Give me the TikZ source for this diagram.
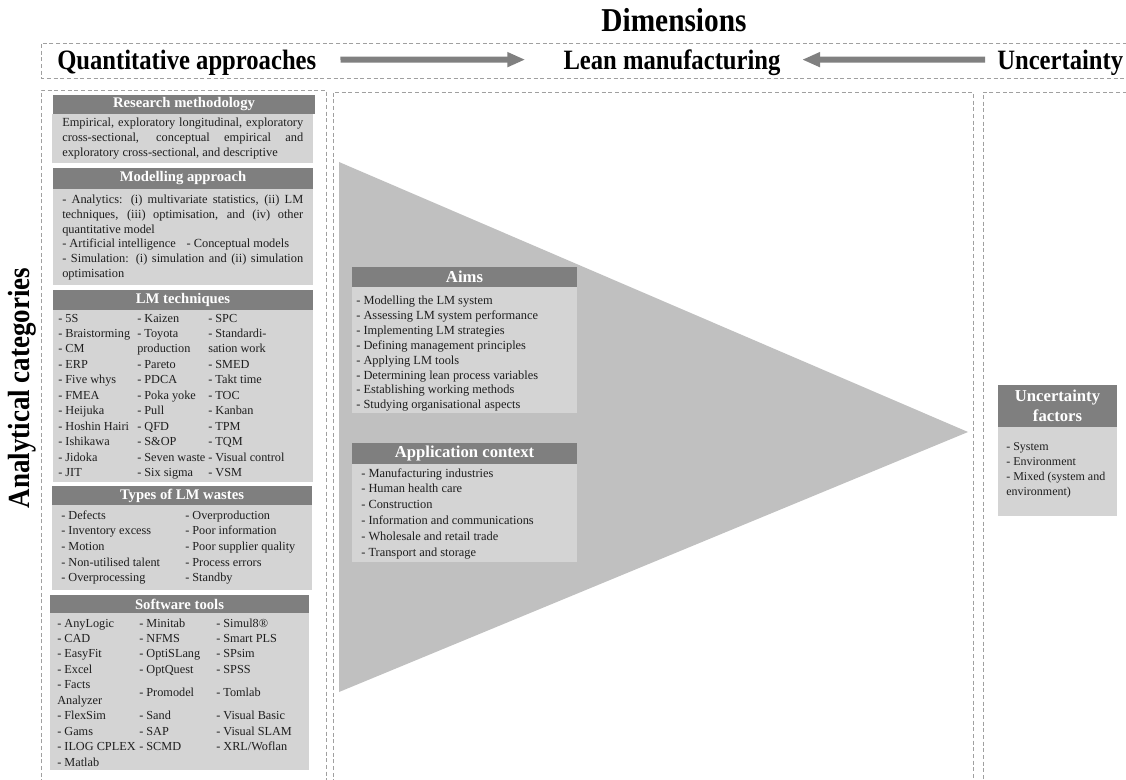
\documentclass[tikz,border=0pt]{standalone}
\usepackage{fontspec}
\setmainfont{Liberation Serif}
\newfontfamily\hdrfont[FakeStretch=0.88]{Liberation Serif}
\usetikzlibrary{arrows.meta,fit}
\definecolor{hdrgray}{HTML}{7F7F7F}
\definecolor{bodygray}{HTML}{D4D4D4}
\definecolor{trigray}{HTML}{C0C0C0}
\definecolor{arrgray}{HTML}{808080}
\definecolor{frmgray}{HTML}{A0A0A0}
\definecolor{txtcol}{HTML}{1E1E1E}
\newcommand\coltab[1]{\begin{tabular}[t]{@{}l@{}}#1\end{tabular}}
\newcommand\jl[1]{\makebox[180.75pt][s]{#1}}
\begin{document}
\begin{tikzpicture}[x=0.75pt,y=-0.75pt,
  ttl/.style={inner sep=0, text=black, font=\hdrfont\bfseries\fontsize{21}{25}\selectfont},
  hbar/.style={fill=hdrgray, inner sep=0, text=white, font=\fontsize{11}{13}\selectfont\bfseries},
  hbarbig/.style={fill=hdrgray, inner sep=0, text=white, align=center, font=\fontsize{12.5}{15}\selectfont\bfseries},
  bbox/.style={fill=bodygray, inner sep=0},
  txt/.style={anchor=base west, inner sep=0, text=txtcol},
  dframe/.style={draw=frmgray, dash pattern=on 3pt off 2pt, line width=0.6pt},
  bigarrow/.style={draw=arrgray, line width=4.5pt, -{Triangle[length=13.5pt,width=10.5pt]}}
]
\useasboundingbox (0,0) rectangle (1126,780);
\fill[white] (0,0) rectangle (1126,780);

% dashed frames
\draw[dframe] (1140,43) -- (41,43) -- (41,78) -- (1140,78);
\draw[dframe] (41,790) -- (41,90) -- (326,90) -- (326,790);
\draw[dframe] (333,790) -- (333,92) -- (973,92) -- (973,790);
\draw[dframe] (1140,92) -- (983,92) -- (983,790);

% titles
\node[ttl, font=\hdrfont\bfseries\fontsize{25}{30}\selectfont] (dim) at (674,20) {Dimensions};
\node[ttl, anchor=base west] (qa) at (57,70) {Quantitative approaches};
\node[ttl, anchor=base] (lm) at (672,70) {Lean manufacturing};
\node[ttl, anchor=base west] (unc) at (997,70) {Uncertainty};
\draw[bigarrow, shorten <=18pt, shorten >=28.5pt] ([yshift=2.7pt]qa.east) -- ([yshift=2.7pt]lm.west);
\draw[bigarrow, shorten <=9pt, shorten >=16pt] ([yshift=2.7pt]unc.west) -- ([yshift=2.7pt]lm.east);
\node[ttl, rotate=90, font=\hdrfont\bfseries\fontsize{23}{27}\selectfont] (ac) at (22,388) {Analytical categories};

% triangle
\fill[trigray] (339,162) -- (339,692) -- (968,432) -- cycle;

% Research methodology
\node[hbar, fit={(53,95) (315,114)}] (rmH) {};
\node[text=white, font=\fontsize{11}{13}\selectfont\bfseries, inner sep=0] at (rmH.center) {Research methodology};
\node[bbox, fit={(52,114) (313,163)}] (rmB) {};
\node[txt, font=\fontsize{9.3}{11.2}\selectfont] (rmT) at (62,127) {\coltab{%
\jl{Empirical, exploratory longitudinal, exploratory}\\
\jl{cross-sectional, conceptual empirical and}\\
exploratory cross-sectional, and descriptive}};

% Modelling approach
\node[hbar, fit={(53,168) (313,189)}] (maH) {};
\node[text=white, font=\fontsize{11}{13}\selectfont\bfseries, inner sep=0] at (maH.center) {Modelling approach};
\node[bbox, fit={(53,189) (313,285)}] (maB) {};
\node[txt, font=\fontsize{9.3}{11}\selectfont] (maT) at (62,204) {\coltab{%
\jl{- Analytics: (i) multivariate statistics, (ii) LM}\\
\jl{techniques, (iii) optimisation, and (iv) other}\\
quantitative model\\
- Artificial intelligence\hspace{8pt}- Conceptual models\\
\jl{- Simulation: (i) simulation and (ii) simulation}\\
optimisation}};

% LM techniques
\node[hbar, fit={(53,290) (313,310)}] (ltH) {};
\node[text=white, font=\fontsize{11}{13}\selectfont\bfseries, inner sep=0] at (ltH.center) {LM techniques};
\node[bbox, fit={(53,310) (313,482)}] (ltB) {};
\begin{scope}[every node/.style={txt, font=\fontsize{9.2}{11.6}\selectfont}]
\node (lt1) at (58,322) {\coltab{- 5S\\- Braistorming\\- CM\\- ERP\\- Five whys\\- FMEA\\- Heijuka\\- Hoshin Hairi\\- Ishikawa\\- Jidoka\\- JIT}};
\node (lt2) at (137,322) {\coltab{- Kaizen\\- Toyota\\production\\- Pareto\\- PDCA\\- Poka yoke\\- Pull\\- QFD\\- S\&OP\\- Seven waste\\- Six sigma}};
\node (lt3) at (208,322) {\coltab{- SPC\\- Standardi-\\sation work\\- SMED\\- Takt time\\- TOC\\- Kanban\\- TPM\\- TQM\\- Visual control\\- VSM}};
\end{scope}

% Types of LM wastes
\node[hbar, fit={(52,486) (312,505)}] (wsH) {};
\node[text=white, font=\fontsize{11}{13}\selectfont\bfseries, inner sep=0] at (wsH.center) {Types of LM wastes};
\node[bbox, fit={(52,505) (312,590)}] (wsB) {};
\begin{scope}[every node/.style={txt, font=\fontsize{9.2}{11.8}\selectfont}]
\node (ws1) at (61,519) {\coltab{- Defects\\- Inventory excess\\- Motion\\- Non-utilised talent\\- Overprocessing}};
\node (ws2) at (185,519) {\coltab{- Overproduction\\- Poor information\\- Poor supplier quality\\- Process errors\\- Standby}};
\end{scope}

% Software tools
\node[hbar, fit={(50,595) (309,613)}] (stH) {};
\node[text=white, font=\fontsize{11}{13}\selectfont\bfseries, inner sep=0] at (stH.center) {Software tools};
\node[bbox, fit={(50,613) (309,770)}] (stB) {};
\begin{scope}[every node/.style={txt, font=\fontsize{9.2}{11.6}\selectfont}]
\node (st1) at (57,627) {\coltab{- AnyLogic\\- CAD\\- EasyFit\\- Excel\\- Facts\\Analyzer\\- FlexSim\\- Gams\\- ILOG CPLEX\\- Matlab}};
\node (st2) at (139,627) {\coltab{- Minitab\\- NFMS\\- OptiSLang\\- OptQuest\\\smash{\raisebox{-5.8pt}{- Promodel}}\\ \\- Sand\\- SAP\\- SCMD}};
\node (st3) at (216,627) {\coltab{- Simul8®\\- Smart PLS\\- SPsim\\- SPSS\\\smash{\raisebox{-5.8pt}{- Tomlab}}\\ \\- Visual Basic\\- Visual SLAM\\- XRL/Woflan}};
\end{scope}

% Aims
\node[hbarbig, fit={(352,267) (577,287)}] (amH) {};
\node[text=white, font=\fontsize{12.5}{15}\selectfont\bfseries, inner sep=0] at (amH.center) {Aims};
\node[bbox, fit={(352,287) (577,413)}] (amB) {};
\node[txt, font=\fontsize{9.3}{11.1}\selectfont] (amT) at (356,305) {\coltab{%
- Modelling the LM system\\
- Assessing LM system performance\\
- Implementing LM strategies\\
- Defining management principles\\
- Applying LM tools\\
- Determining lean process variables\\
- Establishing working methods\\
- Studying organisational aspects}};

% Application context
\node[hbarbig, fit={(352,443) (577,464)}] (acH) {};
\node[text=white, font=\fontsize{12.5}{15}\selectfont\bfseries, inner sep=0] at (acH.center) {Application context};
\node[bbox, fit={(352,464) (577,562)}] (acB) {};
\node[txt, font=\fontsize{9.3}{11.9}\selectfont] (acT) at (361,477) {\coltab{%
- Manufacturing industries\\
- Human health care\\
- Construction\\
- Information and communications\\
- Wholesale and retail trade\\
- Transport and storage}};

% Uncertainty factors
\node[hbarbig, fit={(998,385) (1117,427)}] (ufH) {};
\node[text=white, font=\fontsize{12.5}{15}\selectfont\bfseries, inner sep=0, align=center] at (ufH.center) {Uncertainty\\factors};
\node[bbox, fit={(998,427) (1117,516)}] (ufB) {};
\node[txt, font=\fontsize{9}{11.25}\selectfont] (ufT) at (1006,450) {\coltab{%
- System\\
- Environment\\
- Mixed (system and\\
environment)}};
\end{tikzpicture}
\end{document}
